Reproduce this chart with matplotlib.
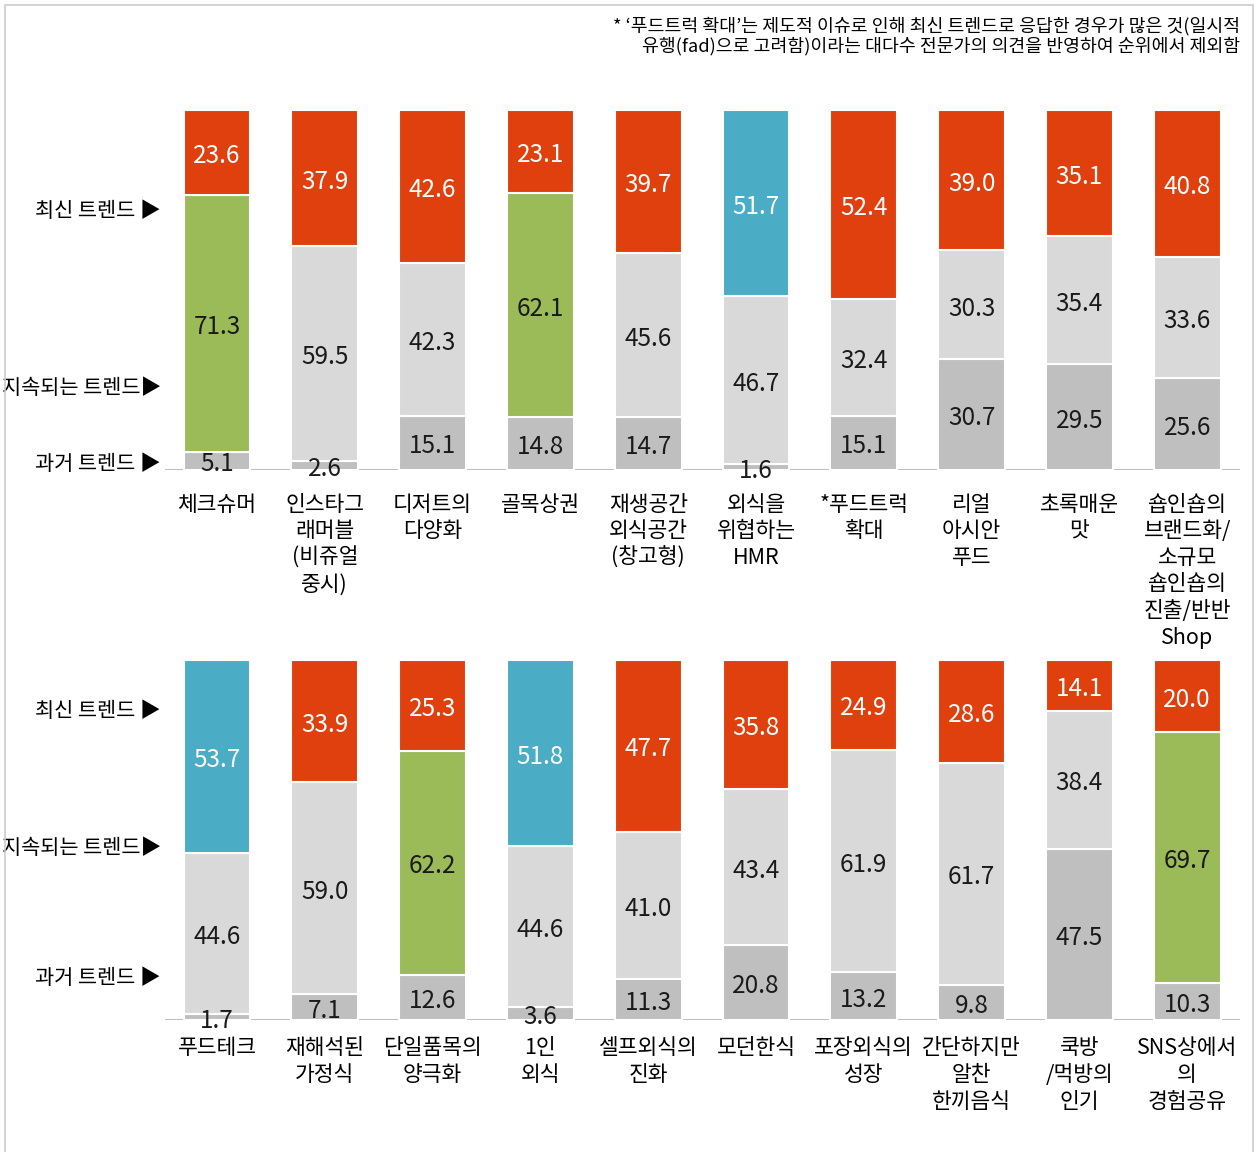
import matplotlib.pyplot as plt
from matplotlib.patches import Rectangle

plt.rcParams['font.family'] = ['Noto Sans CJK KR', 'DejaVu Sans']

# top row
top_names = ["체크슈머", "인스타그\n래머블\n(비쥬얼\n중시)", "디저트의\n다양화", "골목상권",
             "재생공간\n외식공간\n(창고형)", "외식을\n위협하는\nHMR", "*푸드트럭\n확대",
             "리얼\n아시안\n푸드", "초록매운\n맛", "숍인숍의\n브랜드화/\n소규모\n숍인숍의\n진출/반반\nShop"]
top_past = [5.1, 2.6, 15.1, 14.8, 14.7, 1.6, 15.1, 30.7, 29.5, 25.6]
top_ongoing = [71.3, 59.5, 42.3, 62.1, 45.6, 46.7, 32.4, 30.3, 35.4, 33.6]
top_latest = [23.6, 37.9, 42.6, 23.1, 39.7, 51.7, 52.4, 39.0, 35.1, 40.8]
top_green = [0, 3]   # highlighted ongoing segment
top_blue = [5]       # highlighted latest segment

# bottom row
bot_names = ["푸드테크", "재해석된\n가정식", "단일품목의\n양극화", "1인\n외식", "셀프외식의\n진화",
             "모던한식", "포장외식의\n성장", "간단하지만\n알찬\n한끼음식", "쿡방\n/먹방의\n인기",
             "SNS상에서\n의\n경험공유"]
bot_past = [1.7, 7.1, 12.6, 3.6, 11.3, 20.8, 13.2, 9.8, 47.5, 10.3]
bot_ongoing = [44.6, 59.0, 62.2, 44.6, 41.0, 43.4, 61.9, 61.7, 38.4, 69.7]
bot_latest = [53.7, 33.9, 25.3, 51.8, 47.7, 35.8, 24.9, 28.6, 14.1, 20.0]
bot_green = [2, 9]
bot_blue = [0, 3]

RED = "#E0400E"
BLUE = "#4BACC6"
GREEN = "#9BBB59"
LIGHT = "#D9D9D9"
DARK = "#BFBFBF"

W, H = 1258, 1152
fig = plt.figure(figsize=(W / 100, H / 100), dpi=100)
fig.patches.append(Rectangle((5 / W, -0.01), 1248 / W, 1 - 5 / H + 0.01, transform=fig.transFigure,
                             fill=False, edgecolor="#CCCCCC", linewidth=1.2))

fig.text(1240 / W, 1 - 36 / H,
         "* ‘푸드트럭 확대’는 제도적 이슈로 인해 최신 트렌드로 응답한 경우가 많은 것(일시적\n"
         "유행(fad)으로 고려함)이라는 대다수 전문가의 의견을 반영하여 순위에서 제외함",
         ha="right", va="center", fontsize=13.2, linespacing=1.12)


def draw(ax, names, past, ongoing, latest, green, blue, ylabels, pad):
    x = list(range(len(names)))
    mid_c = [GREEN if i in green else LIGHT for i in x]
    top_c = [BLUE if i in blue else RED for i in x]
    bottoms2 = [p + o for p, o in zip(past, ongoing)]
    ax.bar(x, past, width=0.62, color=DARK, edgecolor="white", linewidth=1.5)
    ax.bar(x, ongoing, bottom=past, width=0.62, color=mid_c, edgecolor="white", linewidth=1.5)
    ax.bar(x, latest, bottom=bottoms2, width=0.62, color=top_c, edgecolor="white", linewidth=1.5)
    off = -1.0
    for i in x:
        ax.text(i, past[i] / 2 + off, f"{past[i]:.1f}", ha="center", va="center", fontsize=17.5,
                color="#1a1a1a")
        ax.text(i, past[i] + ongoing[i] / 2 + off, f"{ongoing[i]:.1f}", ha="center", va="center",
                fontsize=17.5, color="#1a1a1a")
        ax.text(i, bottoms2[i] + latest[i] / 2 + off, f"{latest[i]:.1f}", ha="center", va="center",
                fontsize=17.5, color="white")
    ax.axhline(0, color="#BFBFBF", linewidth=1.5, zorder=0)
    ax.set_xlim(-0.482, 9.49)
    ax.set_ylim(0, 100)
    ax.set_yticks([])
    ax.set_xticks(x, names, fontsize=15.5, linespacing=1.27)
    ax.tick_params(axis="x", length=0, pad=pad)
    for s in ax.spines.values():
        s.set_visible(False)
    for txt, yv in ylabels:
        ax.text(-0.52, yv, txt, ha="right", va="center", fontsize=15)


ax1 = fig.add_axes([165 / W, 1 - 470 / H, 1075 / W, 360 / H])
draw(ax1, top_names, top_past, top_ongoing, top_latest, top_green, top_blue,
     [("최신 트렌드 ▶", 72.0), ("지속되는 트렌드▶", 22.8), ("과거 트렌드 ▶", 1.7)], 17)

ax2 = fig.add_axes([165 / W, 1 - 1020 / H, 1075 / W, 360 / H])
draw(ax2, bot_names, bot_past, bot_ongoing, bot_latest, bot_green, bot_blue,
     [("최신 트렌드 ▶", 85.9), ("지속되는 트렌드▶", 47.8), ("과거 트렌드 ▶", 11.7)], 12.5)

fig.savefig("out.png", dpi=100)
